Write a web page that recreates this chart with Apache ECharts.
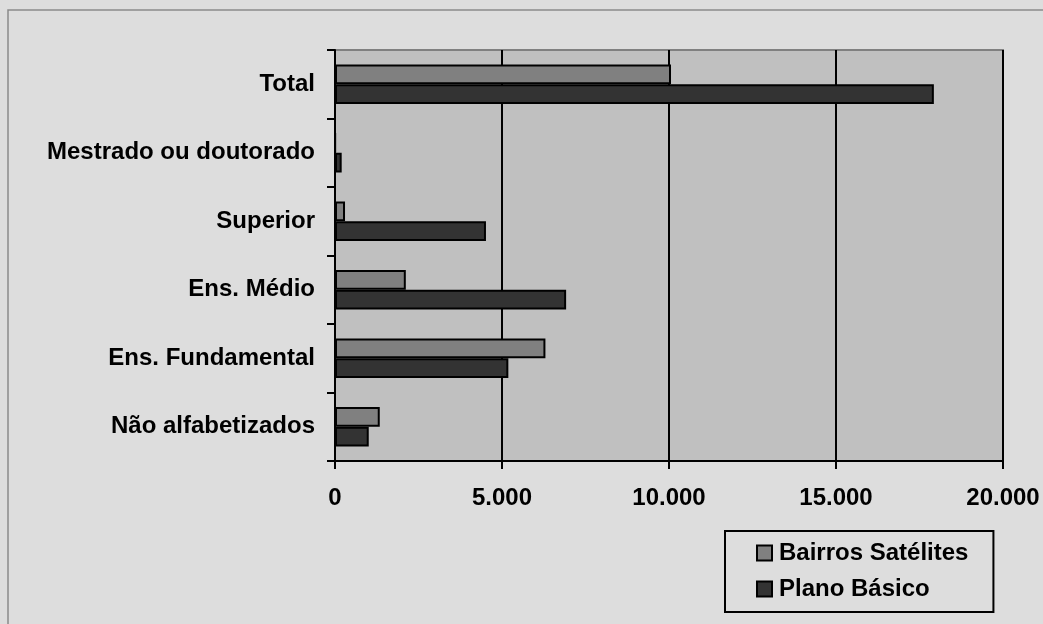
<!DOCTYPE html>
<html>
<head>
<meta charset="utf-8">
<script src="https://cdn.jsdelivr.net/npm/echarts@6/dist/echarts.min.js"></script>
<style>
  html, body { margin: 0; padding: 0; background: #DDDDDD; }
  #chart { width: 1043px; height: 624px; }
</style>
</head>
<body>
<div id="chart"></div>
<script>
// Education levels, listed from the bottom of the axis upward
const categories = [
  'Não alfabetizados',
  'Ens. Fundamental',
  'Ens. Médio',
  'Superior',
  'Mestrado ou doutorado',
  'Total'
];
const bairrosSatelites = [1340, 6300, 2120, 300, 10, 10060];
const planoBasico = [1010, 5190, 6920, 4520, 200, 17930];
const xTicks = [0, 5000, 10000, 15000, 20000];

const FONT = '"Liberation Sans", Arial, sans-serif';

const chart = echarts.init(document.getElementById('chart'), null, { renderer: 'canvas' });

const fmt = v => String(v).replace(/\B(?=(\d{3})+(?!\d))/g, '.');

chart.setOption({
  backgroundColor: '#DDDDDD',
  animation: false,
  textStyle: { fontFamily: FONT },
  graphic: [{
    type: 'rect',
    shape: { x: 8, y: 10, width: 1100, height: 700 },
    style: { fill: 'none', stroke: '#8A8A8A', lineWidth: 1.5 },
    z: 0
  }],
  grid: {
    left: 335, right: 40, top: 50, bottom: 163,
    show: true,
    backgroundColor: '#C0C0C0',
    borderColor: '#808080',
    borderWidth: 2
  },
  legend: {
    orient: 'vertical',
    left: 725, top: 531,
    padding: [10, 25, 11, 31],
    itemGap: 12,
    itemWidth: 15, itemHeight: 15,
    borderColor: '#000', borderWidth: 2,
    backgroundColor: 'transparent',
    icon: 'rect',
    data: ['Bairros Satélites', 'Plano Básico'],
    textStyle: { fontFamily: FONT, fontWeight: 'bold', fontSize: 24, color: '#000', padding: [0, 0, 0, 2] }
  },
  xAxis: {
    type: 'value',
    min: xTicks[0],
    max: xTicks[xTicks.length - 1],
    interval: xTicks[1] - xTicks[0],
    axisLine: { show: true, lineStyle: { color: '#000', width: 2 } },
    axisTick: { show: true, length: 8, lineStyle: { color: '#000', width: 2 } },
    axisLabel: {
      margin: 25,
      fontFamily: FONT, fontWeight: 'bold', fontSize: 24, color: '#000',
      formatter: fmt
    },
    splitLine: { show: true, lineStyle: { color: '#000', width: 2 } }
  },
  yAxis: {
    type: 'category',
    data: categories,
    axisLine: { show: true, lineStyle: { color: '#000', width: 2 } },
    axisTick: { show: true, length: 8, lineStyle: { color: '#000', width: 2 } },
    axisLabel: {
      margin: 20,
      fontFamily: FONT, fontWeight: 'bold', fontSize: 24, color: '#000'
    },
    splitLine: { show: false }
  },
  series: [
    {
      name: 'Bairros Satélites',
      type: 'bar',
      data: bairrosSatelites,
      barGap: '0%',
      barCategoryGap: '42%',
      itemStyle: { color: '#808080', borderColor: '#000', borderWidth: 2 }
    },
    {
      name: 'Plano Básico',
      type: 'bar',
      data: planoBasico,
      barGap: '0%',
      barCategoryGap: '42%',
      itemStyle: { color: '#333333', borderColor: '#000', borderWidth: 2 }
    }
  ]
});
</script>
</body>
</html>
